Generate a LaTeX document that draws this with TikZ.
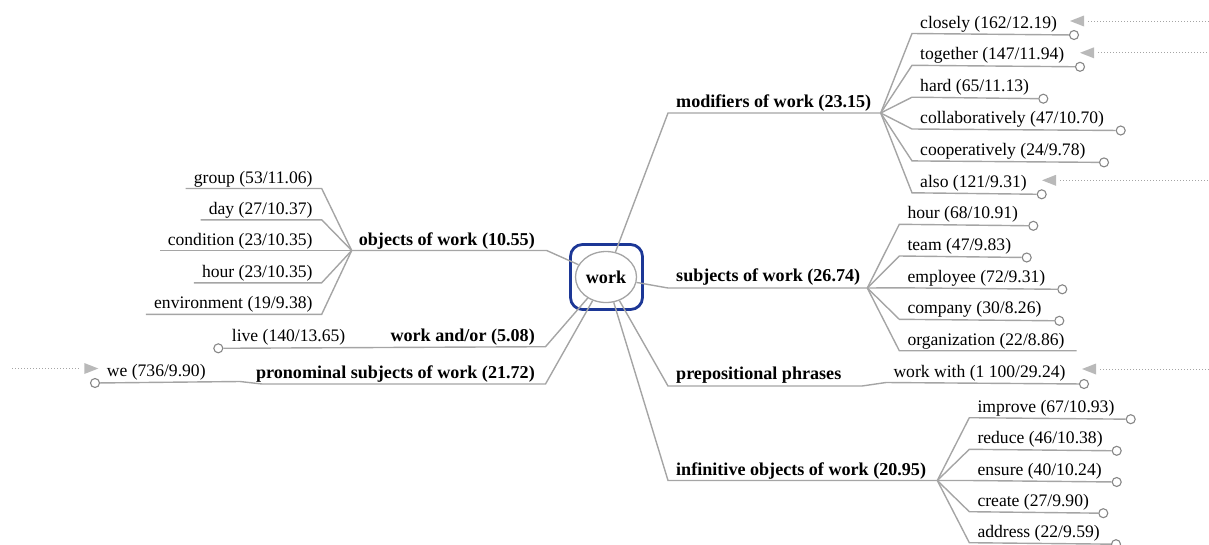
\documentclass[tikz,border=0pt]{standalone}
\usepackage{fontspec}
\setmainfont{Liberation Serif}
\usetikzlibrary{shapes.geometric,calc}
\definecolor{lg}{RGB}{165,165,165}
\definecolor{cg}{RGB}{135,135,135}
\definecolor{tg}{RGB}{185,185,185}
\definecolor{bx}{RGB}{28,55,150}
\newcommand\rkid[6]{%
  \coordinate (#1u) at (#3,#4);
  \node[lbl, anchor=base west] (#1) at (#3+8,#4-5.5) {#5};
  \node[endc] (#1c) at (#6,#4+1.5) {};
  \draw[ln] (#2) -- (#1u) -- (#1c);
}
\newcommand\lkid[4]{%
  \node[lbl, anchor=base east] (#1) at (312.7,#3-5.5) {#4};
  \coordinate (#1r) at (321.7,#3);
  \coordinate (#1l) at ($(#1.base west)+(-8,5.5)$);
  \draw[ln] (#2) -- (#1r) -- (#1l);
}
\begin{document}
\begin{tikzpicture}[x=1pt,y=-1pt,
  lbl/.style={inner sep=0pt, text=black, font=\fontsize{17.6}{20}\selectfont},
  hd/.style={inner sep=0pt, text=black, font=\fontsize{18.1}{20}\selectfont\bfseries},
  ln/.style={draw=lg, line width=1.4pt},
  endc/.style={circle, draw=cg, fill=white, line width=1.1pt, minimum size=9pt, inner sep=0pt},
  tri/.style={fill=tg, draw=none},
  dots/.style={draw=lg, line width=1pt, dash pattern=on 1pt off 2pt},
]
\useasboundingbox (0,0) rectangle (1209,544);

% centre
\node[draw=bx, line width=2.8pt, rounded corners=12pt, minimum width=72pt, minimum height=65pt, inner sep=0pt] (cb) at (606.5,277) {};
\node[ellipse, draw=lg, line width=1.3pt, fill=white, minimum width=61pt, minimum height=51pt, hd] (c) at (606,277) {work};

% ---------- modifiers
\node[hd, anchor=base west] (mh) at (676,107.5) {modifiers of work (23.15)};
\coordinate (m0) at (668,113);
\coordinate (mf) at (880.7,113);
\draw[ln] (c) -- (m0) -- (mf);
\rkid{m1}{mf}{912}{33.5}{closely (162/12.19)}{1074}
\rkid{m2}{mf}{912}{65.3}{together (147/11.94)}{1080}
\rkid{m3}{mf}{912}{97.2}{hard (65/11.13)}{1043.3}
\rkid{m4}{mf}{912}{129.0}{collaboratively (47/10.70)}{1120.7}
\rkid{m5}{mf}{912}{160.9}{cooperatively (24/9.78)}{1104}
\rkid{m6}{mf}{912}{192.8}{also (121/9.31)}{1041.7}

% ---------- subjects
\node[hd, anchor=base west] (sh) at (676,281.5) {subjects of work (26.74)};
\coordinate (s0) at (668,288);
\coordinate (sf) at (867.3,288);
\draw[ln] (c) -- (s0) -- (sf);
\rkid{s1}{sf}{899.3}{224.3}{hour (68/10.91)}{1033.3}
\rkid{s2}{sf}{899.3}{256}{team (47/9.83)}{1026.7}
\rkid{s3}{sf}{899.3}{287.8}{employee (72/9.31)}{1062.3}
\rkid{s4}{sf}{899.3}{319.3}{company (30/8.26)}{1059.3}
\coordinate (s5u) at (899.3,350.7);
\coordinate (s5e) at (1076.7,350.7);
\node[lbl, anchor=base west] (s5) at (907.3,345.2) {organization (22/8.86)};
\draw[ln] (sf) -- (s5u) -- (s5e);

% ---------- prepositional phrases
\node[hd, anchor=base west] (ph) at (676,379.5) {prepositional phrases};
\coordinate (p0) at (668,386);
\coordinate (pf) at (862,386);
\coordinate (p1u) at (886,382.5);
\node[lbl, anchor=base west] (p1) at (893.3,377) {work with (1 100/29.24)};
\node[endc] (p1c) at (1084,384) {};
\draw[ln] (c) -- (p0) -- (pf) -- (p1u) -- (p1c);

% ---------- infinitive objects
\node[hd, anchor=base west] (ih) at (676,475) {infinitive objects of work (20.95)};
\coordinate (i0) at (668,480.5);
\coordinate (if) at (937.3,480.5);
\draw[ln] (c) -- (i0) -- (if);
\rkid{i1}{if}{969.3}{417.7}{improve (67/10.93)}{1130.7}
\rkid{i2}{if}{969.3}{449.3}{reduce (46/10.38)}{1116.7}
\rkid{i3}{if}{969.3}{480.5}{ensure (40/10.24)}{1116.7}
\rkid{i4}{if}{969.3}{511.7}{create (27/9.90)}{1103.3}
\rkid{i5}{if}{969.3}{542.7}{address (22/9.59)}{1116}

% ---------- objects (left)
\node[hd, anchor=base east] (oh) at (535,245) {objects of work (10.55)};
\coordinate (o0) at (546.7,250.5);
\coordinate (of) at (351.7,250.5);
\draw[ln] (c) -- (o0) -- (of);
\lkid{o1}{of}{188.5}{group (53/11.06)}
\lkid{o2}{of}{219.8}{day (27/10.37)}
\lkid{o3}{of}{250.5}{condition (23/10.35)}
\lkid{o4}{of}{282.8}{hour (23/10.35)}
\lkid{o5}{of}{314.3}{environment (19/9.38)}

% ---------- work and/or
\node[hd, anchor=base east] (ah) at (535,341.5) {work and/or (5.08)};
\coordinate (a0) at (545.5,346.7);
\node[lbl, anchor=base west] (a1) at (231.7,341.2) {live (140/13.65)};
\node[endc] (a1c) at (218.3,348.3) {};
\draw[ln] (c) -- (a0) -- (a1c);

% ---------- pronominal subjects
\node[hd, anchor=base east] (qh) at (535,378.5) {pronominal subjects of work (21.72)};
\coordinate (q0) at (545.5,384);
\coordinate (qb1) at (262,384);
\coordinate (qb2) at (240,381.5);
\node[lbl, anchor=base west] (q1) at (106.7,376) {we (736/9.90)};
\node[endc] (q1c) at (95,383) {};
\draw[ln] (c) -- (q0) -- (qb1) -- (qb2) -- (q1c);

% ---------- expansion markers
\fill[tri] (1070,21) -- ++(14,-5.5) -- ++(0,11) -- cycle;
\fill[tri] (1080,52.8) -- ++(14,-5.5) -- ++(0,11) -- cycle;
\fill[tri] (1042,180.3) -- ++(14,-5.5) -- ++(0,11) -- cycle;
\fill[tri] (1082,369) -- ++(14,-5.5) -- ++(0,11) -- cycle;
\fill[tri] (98.3,368.5) -- ++(-14,-5.5) -- ++(0,11) -- cycle;

\coordinate (d1a) at (1088,21);     \coordinate (d1b) at (1209,21);
\coordinate (d2a) at (1098,52.8);   \coordinate (d2b) at (1209,52.8);
\coordinate (d3a) at (1060,180.3);  \coordinate (d3b) at (1209,180.3);
\coordinate (d4a) at (1100,369);    \coordinate (d4b) at (1209,369);
\coordinate (d5a) at (12,368.5);    \coordinate (d5b) at (80,368.5);
\draw[dots] (d1a) -- (d1b);
\draw[dots] (d2a) -- (d2b);
\draw[dots] (d3a) -- (d3b);
\draw[dots] (d4a) -- (d4b);
\draw[dots] (d5a) -- (d5b);
\end{tikzpicture}
\end{document}
